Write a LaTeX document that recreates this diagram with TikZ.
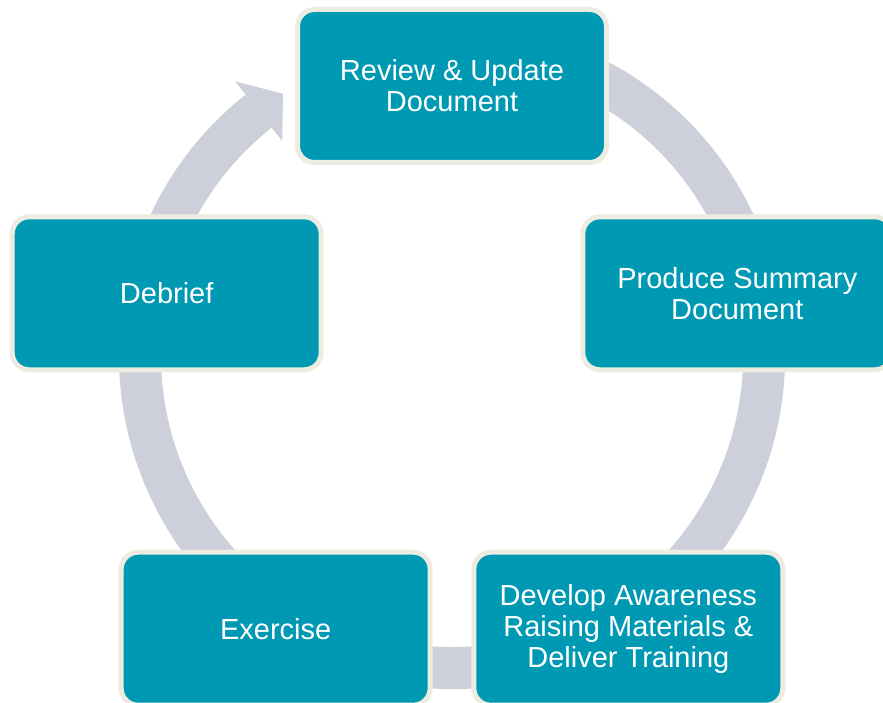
\documentclass[tikz,border=0pt]{standalone}
\usepackage{fontspec}
\setmainfont{Liberation Sans}

\definecolor{stageteal}{RGB}{0,153,179}
\definecolor{stageedge}{RGB}{238,236,225}
\definecolor{ringgray}{RGB}{205,207,218}

\begin{document}
\begin{tikzpicture}[x=1pt,y=1pt,
  stage/.style={draw=stageedge,fill=stageteal,line width=5pt,rounded corners=17pt,
    minimum width=309pt,minimum height=153pt,align=center,text=white,
    font=\fontsize{29}{31}\selectfont}]
\useasboundingbox (0,0) rectangle (883,703);
\coordinate (hub) at (452,347);
\coordinate (mid) at (452,317);

% grey ring with its arrow head
\draw[ringgray,line width=42pt] ([shift={(110:312)}]hub) arc[start angle=110,end angle=-231.7,radius=312];
\fill[ringgray] ([shift={(128.3:350)}]hub) -- ([shift={(122.8:312)}]hub) -- ([shift={(128.3:274)}]hub) -- cycle;

% the five steps
\node[stage] (review) at ([shift={(90:300)}]mid) {Review \& Update\\Document};
\node[stage] (summary) at ([shift={(18:300)}]mid) {Produce Summary\\Document};
\node[stage] (training) at ([shift={(-54:300)}]mid) {Develop Awareness\\Raising Materials \&\\Deliver Training};
\node[stage] (exercise) at ([shift={(-126:300)}]mid) {Exercise};
\node[stage] (debrief) at ([shift={(162:300)}]mid) {Debrief};
\end{tikzpicture}
\end{document}
